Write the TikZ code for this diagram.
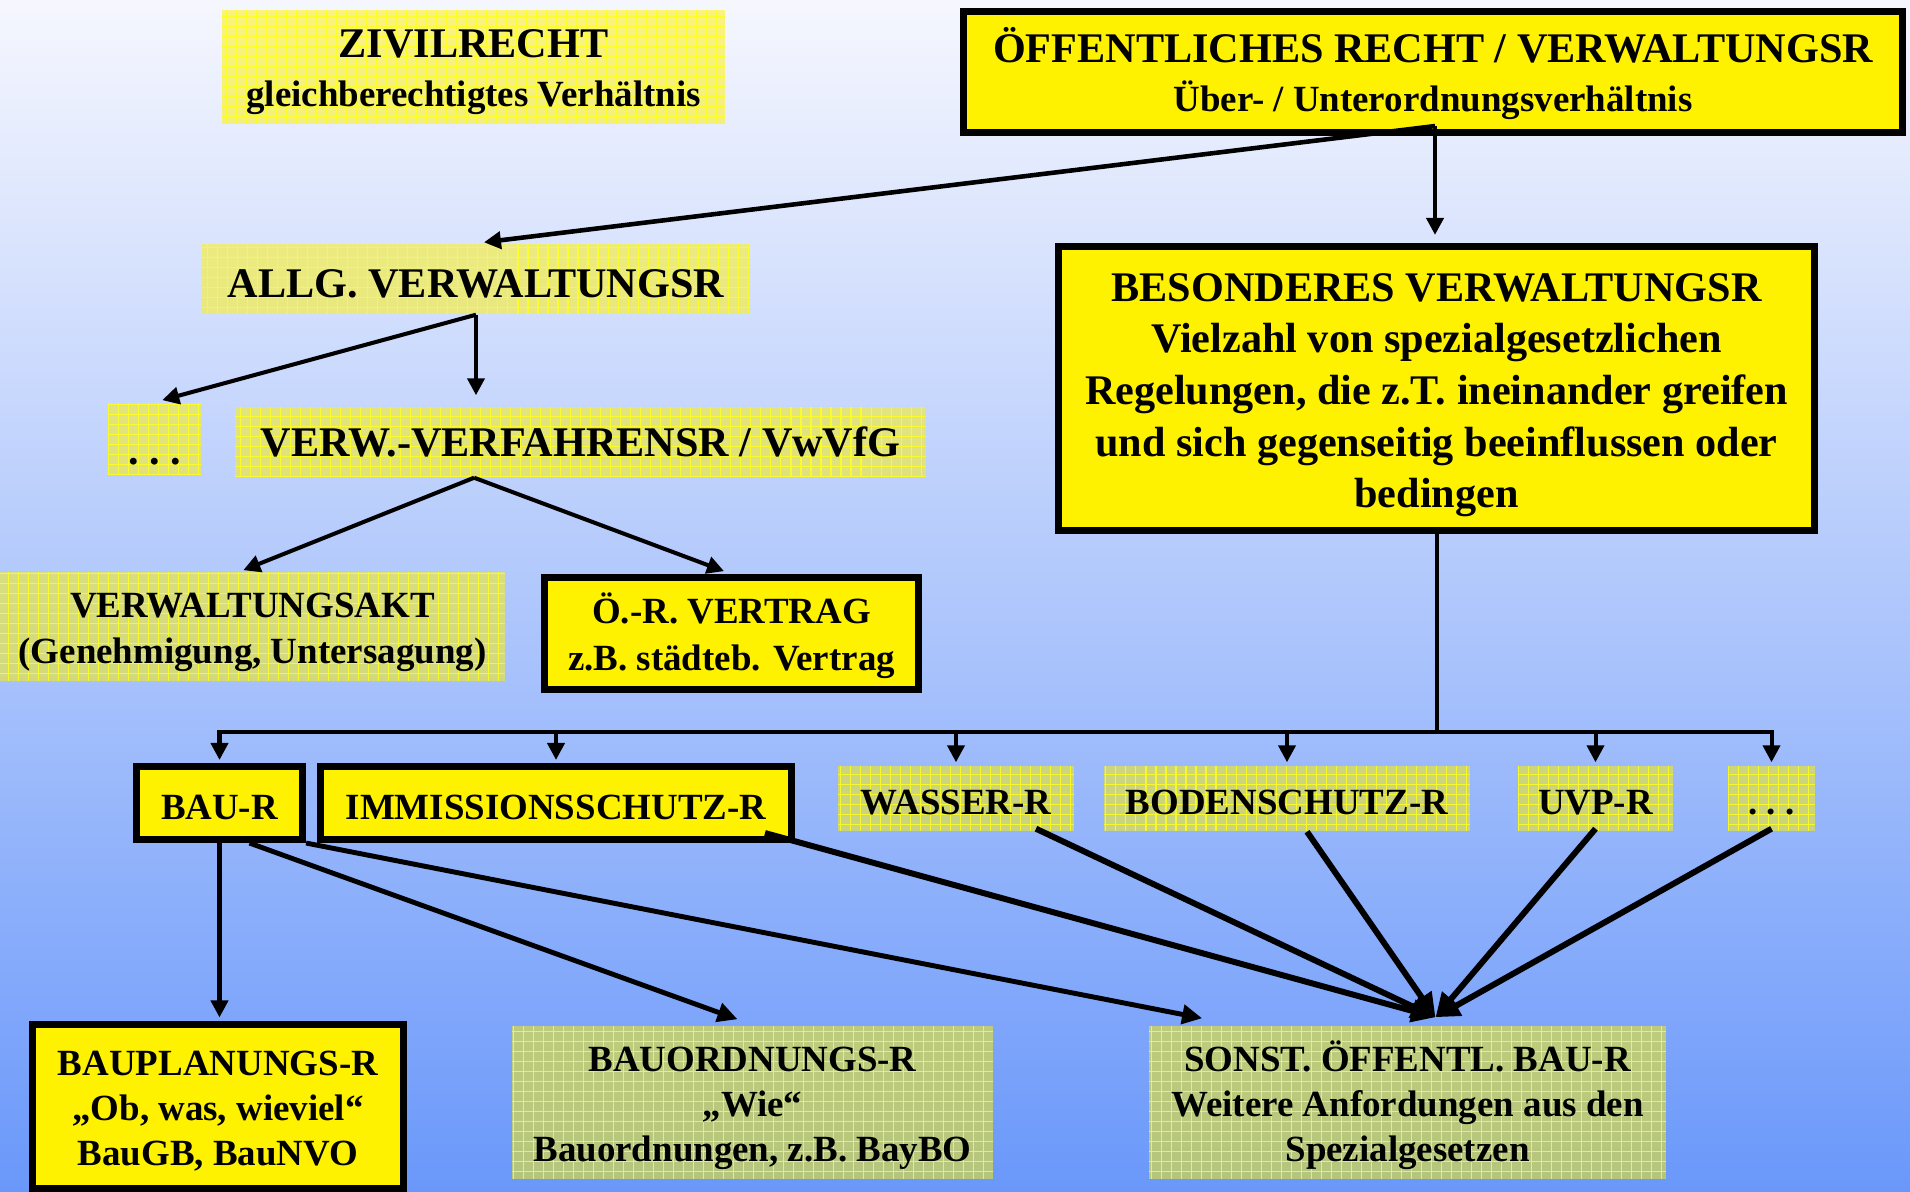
\documentclass[tikz,border=0pt]{standalone}
\usepackage{fontspec}
\setmainfont{Liberation Serif}
\usetikzlibrary{arrows.meta,calc}
\definecolor{bgtop}{RGB}{246,247,254}
\definecolor{bgbot}{RGB}{106,152,250}
\definecolor{gridyel}{RGB}{255,255,30}
\tikzset{
  lift/.style={execute at begin node={\rule{0pt}{#1}}, execute at end node={\rule[-3pt]{0pt}{0pt}}},
  sink/.style={execute at end node={\rule[-#1]{0pt}{0pt}}},
  solidbox/.style={draw=black, line width=2pt, fill=yellow, inner sep=0pt, align=center,
    font=\bfseries\fontsize{10.5}{13}\selectfont, lift=12.3pt},
  hatchbox/.style={fill=yellow, fill opacity=0.5, text opacity=1, inner sep=0pt, align=center,
    font=\bfseries\fontsize{10.5}{13}\selectfont, lift=12.3pt,
    path picture={\draw[gridyel, line width=0.3pt, opacity=0.85]
      (path picture bounding box.south west) grid[step=0.1cm] (path picture bounding box.north east);}},
  bigfont/.style={font=\bfseries\fontsize{12}{14.65}\selectfont, lift=13.3pt},
  threeline/.style={font=\bfseries\fontsize{10.5}{12.8}\selectfont, lift=36.7pt},
  mixfont/.style={font=\bfseries\fontsize{10.5}{14}\selectfont, lift=25.7pt},
  arr/.style={line width=1.15pt, -{Triangle[length=0.17cm, width=0.17cm]}},
  busline/.style={line width=1.15pt},
  bigarr/.style={line width=1.7pt, -{Triangle[length=0.24cm, width=0.22cm]}}
}
\begin{document}
\begin{tikzpicture}[x=0.01cm, y=-0.01cm]
\useasboundingbox (0,0) rectangle (1910,1191);
\shade[top color=bgtop, bottom color=bgbot] (0,0) rectangle (1910,1191);

% top row
\node[hatchbox, mixfont, minimum width=5.03cm, minimum height=1.14cm] (zivil) at (473.5,67)
  {{\fontsize{12}{14}\selectfont ZIVILRECHT}\\gleichberechtigtes Verhältnis};
\node[solidbox, mixfont, minimum width=9.39cm, minimum height=1.21cm] (oeff) at (1433,72)
  {{\fontsize{12}{14}\selectfont ÖFFENTLICHES RECHT / VERWALTUNGSR}\\Über- / Unterordnungsverhältnis};

% second level
\node[hatchbox, bigfont, minimum width=5.48cm, minimum height=0.70cm] (allg) at (476,279)
  {ALLG. VERWALTUNGSR};
\node[solidbox, bigfont, lift=70.7pt, minimum width=7.56cm, minimum height=2.84cm] (bes) at (1436.5,388.5)
  {BESONDERES VERWALTUNGSR\\Vielzahl von spezialgesetzlichen\\Regelungen, die z.T. ineinander greifen\\und sich gegenseitig beeinflussen oder\\bedingen};

% third level
\node[hatchbox, bigfont, lift=17.5pt, minimum width=0.93cm, minimum height=0.70cm] (dots1) at (154.5,439)
  {\vphantom{V}.\ .\ .};
\node[hatchbox, bigfont, lift=9pt, sink=5pt, minimum width=6.91cm, minimum height=0.70cm] (verw) at (580.5,442)
  {VERW.-VERFAHRENSR / VwVfG};

% fourth level
\node[hatchbox, lift=24.1pt, minimum width=5.05cm, minimum height=1.09cm] (vakt) at (252.5,626.5)
  {VERWALTUNGSAKT\\(Genehmigung, Untersagung)};
\node[solidbox, font=\bfseries\fontsize{10.5}{13.4}\selectfont, lift=23.9pt, minimum width=3.74cm, minimum height=1.12cm] (oer) at (731.5,633.5)
  {Ö.-R. VERTRAG\\z.B. städteb. Vertrag};

% row of special laws
\node[solidbox, lift=10.5pt, minimum width=1.66cm, minimum height=0.73cm] (baur) at (219.5,803) {BAU-R};
\node[solidbox, lift=10.5pt, minimum width=4.71cm, minimum height=0.73cm] (imm) at (556,803) {IMMISSIONSSCHUTZ-R};
\node[hatchbox, lift=11.5pt, minimum width=2.36cm, minimum height=0.65cm] (wasser) at (956,798.5) {WASSER-R};
\node[hatchbox, lift=11.5pt, minimum width=3.66cm, minimum height=0.65cm] (boden) at (1287,798.5) {BODENSCHUTZ-R};
\node[hatchbox, lift=11.5pt, minimum width=1.55cm, minimum height=0.65cm] (uvp) at (1595.5,798.5) {UVP-R};
\node[hatchbox, lift=11.5pt, minimum width=0.87cm, minimum height=0.65cm] (dots2) at (1771.5,798.5) {\vphantom{V}.\ .\ .};

% bottom row
\node[solidbox, threeline, minimum width=3.71cm, minimum height=1.64cm] (bplan) at (218,1106.5)
  {BAUPLANUNGS-R\\„Ob, was, wieviel“\\BauGB, BauNVO};
\node[hatchbox, threeline, minimum width=4.81cm, minimum height=1.53cm] (bord) at (752.5,1102.5)
  {BAUORDNUNGS-R\\„Wie“\\Bauordnungen, z.B. BayBO};
\node[hatchbox, threeline, minimum width=5.17cm, minimum height=1.53cm] (sonst) at (1407.5,1102.5)
  {SONST. ÖFFENTL. BAU-R\\Weitere Anfordungen aus den\\Spezialgesetzen};

% connectors: top
\coordinate (otop) at ($(oeff.south)+(2,-10)$);
\draw[arr, line width=1.3pt, shorten >=0.08cm] (otop) -- (allg.north);
\draw[arr, shorten >=0.08cm] (otop) -- (otop |- bes.north);

\draw[arr, shorten >=0.08cm] (allg.south) -- (dots1.north);
\draw[arr, shorten >=0.11cm] (allg.south) -- (allg.south |- verw.north);

\coordinate (vsplit) at ($(verw.south west)+(240,0)$);
\draw[arr, shorten >=0.03cm] (vsplit) -- ($(vakt.north)+(-12,0)$);
\draw[arr, shorten >=0.08cm] (vsplit) -- (oer.north);

% bus
\coordinate (busy) at (0,732);
\draw[busline] (bes.south) -- (bes.south |- busy);
\draw[busline, line cap=rect] (baur.north |- busy) -- (dots2.north |- busy);
\foreach \n in {baur,imm,wasser,boden,uvp,dots2}
  \draw[arr, shorten >=0.03cm] (\n.north |- busy) -- (\n.north);

% from BAU-R
\draw[arr, shorten >=0.035cm] (baur.south) -- (baur.south |- bplan.north);
\draw[arr, line width=1.4pt, -{Triangle[length=0.2cm, width=0.19cm]}] ($(baur.south)+(30,0)$) -- ($(bord.north)+(-15,-6)$);
\draw[arr, line width=1.4pt, -{Triangle[length=0.2cm, width=0.19cm]}] (baur.south east) -- ($(sonst.north west)+(54,-7)$);

% converging arrows
\coordinate (conv) at ($(sonst.north)+(28,-8)$);
\draw[bigarr] ($(imm.south)+(209,-10)$) -- (conv);
\draw[bigarr] ($(wasser.south)+(80,-3)$) -- (conv);
\draw[bigarr] ($(boden.south)+(20,0)$) -- (conv);
\draw[bigarr] ($(uvp.south)+(0,-3)$) -- (conv);
\draw[bigarr] ($(dots2.south)+(0,-3)$) -- (conv);
\end{tikzpicture}
\end{document}
